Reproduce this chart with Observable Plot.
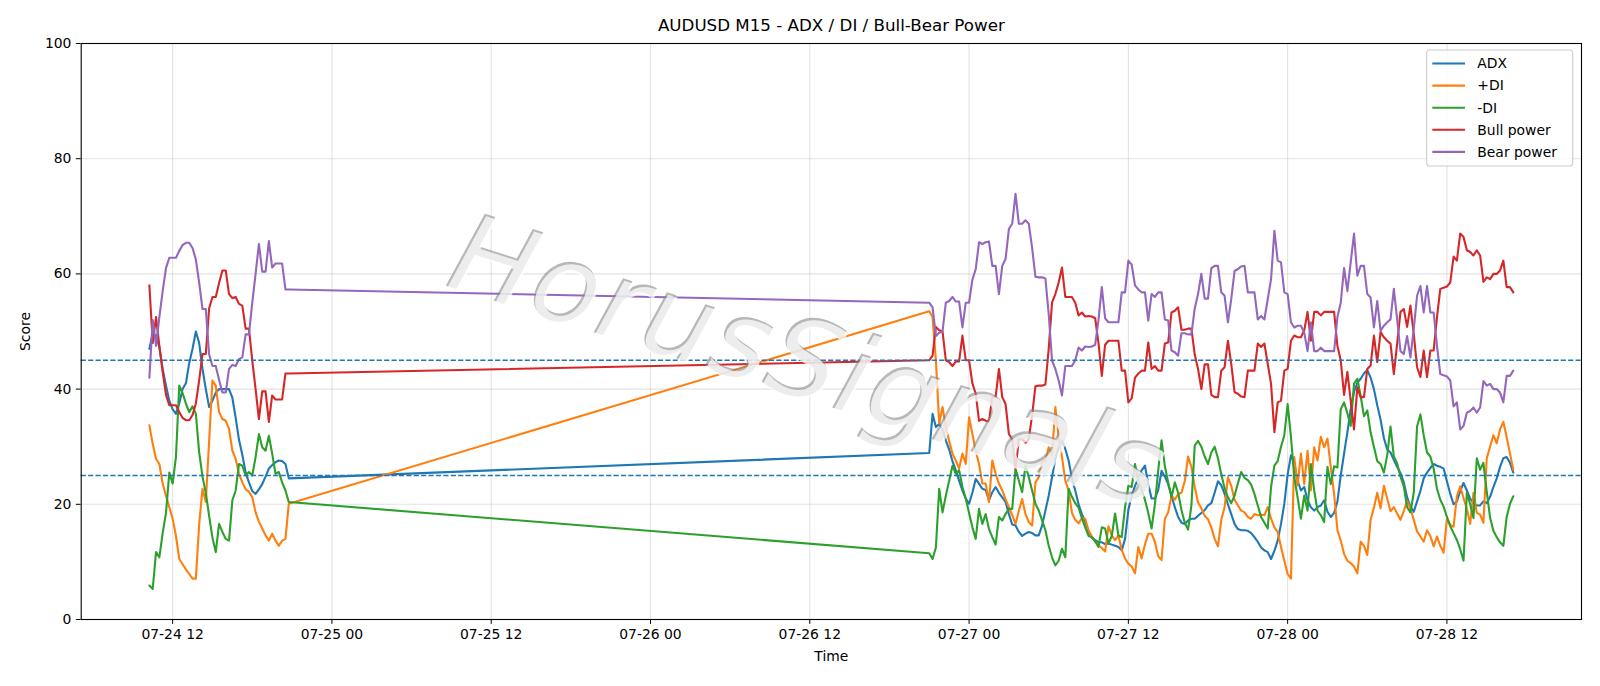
<!DOCTYPE html>
<html><head><meta charset="utf-8">
<script src="https://cdn.jsdelivr.net/npm/d3@7"></script>
<script src="https://cdn.jsdelivr.net/npm/@observablehq/plot@0.6"></script>
<style>body{margin:0;background:#fff;} #chart{width:1600px;height:686px;}</style>
</head><body><div id="chart"></div>
<script>
const chartTitle = "AUDUSD M15 - ADX / DI / Bull-Bear Power";
const xLabel = "Time";
const yLabel = "Score";
const watermark = "HorusSignals";
const seriesNames = ["ADX", "+DI", "-DI", "Bull power", "Bear power"];
const seriesColors = ["#1f77b4", "#ff7f0e", "#2ca02c", "#d62728", "#9467bd"];
const segStarts = ["2020-07-24T10:15:00Z", "2020-07-26T21:00:00Z"];
const barMinutes = 15;
const yTicks = [0, 20, 40, 60, 80, 100];
const refLevels = [45, 25];

// Segment 1: 07-24 10:15 .. 20:45
const adxA = [47,49.6,49.3,47.3,43.5,40.6,38,36.5,35.7,37.5,40,41,44.5,47,50,48,43.5,40,36.9,38,39.4,40,40,40,40,38.5,35,31.2,28.6,25.5,23.8,22.3,21.8,22.6,23.5,24.8,26.2,26.8,27.3,27.6,27.5,27,24.5];
const pdiA = [33.7,30.5,27.9,27,23.6,21.5,19.5,17.5,14.5,10.5,9.6,8.7,7.9,7.1,7.1,16.5,22.7,20.4,31,41.5,40.6,36,34.8,34.5,33.1,29.3,27.9,25.3,23.8,22.6,22.2,21.2,18.6,17,15.8,14.6,13.7,14.9,13.7,12.8,13.7,14,20.1];
const mdiA = [5.9,5.3,11.7,10.8,15,18.5,25.5,23.6,28.2,40.6,39.3,37.5,36,37,35.7,29,24.8,22,18,14.2,11.7,16.6,15.2,14,13.7,20.7,22.4,27,26.7,25,25.6,25,28.2,32.2,29.9,29.3,31.9,28.8,25.3,25.6,23.8,22.4,20.4];
const bullA = [58,48,52.5,47.5,43,39,37.2,37.2,37.2,36,35,34.6,34.6,35.5,37.5,41.5,46.1,46.1,54,56,56,58.4,60.6,60.6,56.5,55.8,56,54.8,54.5,50.5,50.5,45,40,34.8,39.6,39.6,34.3,38.9,38.2,38.2,38.2,42.7,42.7];
const bearA = [42,52,47.5,52.5,57,61,62.8,62.8,62.8,64,65,65.4,65.4,64.5,62.5,58.5,53.9,53.9,46,44,44,41.6,39.4,39.4,43.5,44.2,44,45.2,45.5,49.5,49.5,55,60,65.2,60.4,60.4,65.7,61.1,61.8,61.8,61.8,57.3,57.3];

// Segment 2: 07-26 21:00 .. 07-28 17:00
const adxB = [
28.9,35.7,33.4,34,33,31.1,29.5,27.5,25.9,24.1,
22.4,21,20.1,22,24.4,23.6,22.7,22.5,20.7,22.1,
23,22,21.2,20.4,18.3,16.5,16.3,15.2,14.5,14.9,
15.2,15,14.6,14.6,16.3,18.9,21.5,24.7,27.9,29.9,
31.1,29.6,27.6,24.5,22.4,20,18.3,17,15.3,14.2,
13.8,13.4,13.4,13.1,13.2,13,12.8,12.6,12,14,
19,21.5,23.2,24.5,25.9,26.7,23.5,21,21,22.5,
25.8,24.8,23.5,21.5,19.5,17.8,16.8,16.6,17.2,17.5,
17.5,18,18.5,19,19.8,20.2,22,24,23.3,21.8,
20,18.3,16.6,15.7,15.5,15.5,15.4,15,14.3,13.5,
12.5,12,11.7,10.5,11.9,13.7,16.6,20.1,25.2,28.5,
27,24.1,22.4,23,20.7,19.5,18.9,19.5,19.8,20.7,
18.7,17.8,18.5,20.5,25,28.8,32.5,36.5,39.5,41.1,
41.8,42.7,43.3,42,40,37.2,34.7,31.5,29.5,29,
27.7,26.5,25.4,23.8,21.2,19.6,18.7,20.5,22.3,24.5,
25.5,26.3,27,26.7,26.5,26.2,24,21.8,20,20.5,
22.3,23.7,22.4,21,20.2,19.8,19.8,20.5,20.2,21.3,
23,24.5,26.5,28,28.2,27.2,25.5];
const pdiB = [
53.5,52.5,45,34,36.9,33.4,31,28.8,27.6,26.2,
28.8,27,35.1,32.2,29.3,27,23.6,23.6,20.4,27.6,
25.3,23.6,22.4,20.9,19.5,18.1,16.6,18.9,20.9,18.3,
16.9,16.3,23.8,24.7,27.3,27.6,29.9,28.5,36.9,31.7,
28.2,24.1,22.4,18.5,17.3,16.7,17.6,17.5,15.5,14.4,
13.5,12.9,12.4,11.8,16.2,14.6,13.8,14.6,12.1,10.6,
9.7,9.2,8,12.6,10.6,13,14.9,14.9,13.5,11,
10.3,17.5,18.6,21.5,20.8,21.8,22,24,28.3,26.5,
23,20.3,19.3,18,17.4,16,14,12.7,17.3,19.5,
24.7,23.2,20.8,19.8,18.9,18.6,17.8,17.5,18.3,18.1,
18.2,18.1,19.5,17.5,16,15.2,12.6,10.2,7.9,7.1,
28.2,23.3,28.8,23.5,29.3,22.4,29.9,27.6,31.7,29.9,
31.4,26.4,21.8,15.5,13.7,11.4,10.2,9.8,9.2,8,
13.5,12.8,11.2,17.3,19.4,22,19.3,23.2,21,18.8,
19.5,18.4,17.3,18.8,20.6,19.3,17.3,15.3,14.4,13.5,
15.5,14.5,12.7,14.4,12.8,11.6,17.5,16.4,16.1,21.4,
23.1,21.1,19.2,16.6,22,18.5,18.2,16.8,28,30,
32,30.6,33,34.3,31.7,28.8,26];
const mdiB = [
11.5,10.5,12.5,22.7,18.6,21.5,24.1,26.7,25.3,25.9,
23,21,18.5,16,14,19.2,16.6,18.3,15.7,14.3,
13,17.8,17.2,18.3,19.2,19.2,26.2,24.1,22.1,26.7,
24.7,22.4,20.1,18.9,17.2,15.5,12.8,10.8,9.4,10.2,
12.3,10.8,22.7,21.3,20.2,19.4,17.6,16,14.5,14.3,
13.6,12.6,16,15.8,13.2,14.5,18.4,14.6,14.3,19.5,
23.2,23,27,24,22.5,20.8,18.5,15.8,20,25.9,
31.1,26.6,23.8,21.2,23.8,22,19,16.8,15.6,19.8,
30.2,31,30,28.3,27,29,30,28,25.2,22.8,
21.2,20.2,21.5,23.6,25.6,24.6,24.2,23.4,21.8,19.8,
17.8,16.8,15.8,23,26.7,27.5,30,32,37.4,31.7,
24.7,21.2,17.5,21.5,18.9,27,22.4,18.9,18.1,16.9,
26.5,23.5,26.6,26.4,36.5,37.7,35.8,33.6,40.9,41.8,
38.8,35.3,36.3,32.5,30,27.5,27,25.5,28.5,33.5,
28.3,27.1,24.8,23.1,19.5,18.6,22,33.5,35.6,32,
29,28.3,26.2,22.7,20.8,19.6,17.8,16.2,15,13.8,
12.2,10.2,22,20,17.6,28,26,27.2,22.2,17.7,
15.4,14.3,13.4,12.8,17.8,20.1,21.4];
const bullB = [
45,45.8,50.8,50.2,50,45,44.7,44,44.8,44.8,
49.3,45,45,41,39.2,34.5,34.8,34.5,34.4,38.6,
38.6,43.5,38.6,37.4,32.2,31.3,26.1,31.3,31.3,30.7,
31.3,35.5,40.5,40.6,40.6,40.8,47,55,56.5,58.5,
61.1,56,56,56,55,52.8,53.3,52.6,52.7,52.6,
52.3,48,42.3,47.7,48.4,48.4,48.4,48.4,43.2,43.2,
37.7,38.4,42,42.7,43.2,43.2,48.1,43.5,44,43.2,
43.2,47.9,48.1,53.3,53.6,54.2,50.3,50.3,50.5,50.5,
46,43.5,40,44.3,44.3,39,38.6,38.6,43.2,43.8,
48.4,44.4,39.5,39.2,38.7,38.6,43.2,43.2,43.2,47.9,
47.3,47.9,44.4,40.9,32.5,37.7,38,43.2,43.5,48.4,
49.3,49,49,50.2,53.4,48.4,53.4,53.4,52.8,53.4,
53.4,53.4,53.4,47.5,45,39,43,38,33,40.3,
38.6,38.6,43.5,44.1,49.3,44.7,49.9,49,48.4,47.9,
42.6,47.9,53.4,53.9,50.8,54.5,49.6,43.8,42.1,46.7,
42.1,46.7,46.7,52.5,57.4,57.6,57.8,58.5,63,62.3,
67,66.4,64.1,63.8,63.2,64.1,63.2,58.6,59.4,59.1,
60,60,60.6,62.3,57.7,57.7,56.8];
const bearB = [
55,54.2,49.2,49.8,50,55,55.3,56,55.2,55.2,
50.7,55,55,59,60.8,65.5,65.2,65.5,65.6,61.4,
61.4,56.5,61.4,62.6,67.8,68.7,73.9,68.7,68.7,69.3,
68.7,64.5,59.5,59.4,59.4,59.2,53,45,43.5,41.5,
38.9,44,44,44,45,47.2,46.7,47.4,47.3,47.4,
47.7,52,57.7,52.3,51.6,51.6,51.6,51.6,56.8,56.8,
62.3,61.6,58,57.3,56.8,56.8,51.9,56.5,56,56.8,
56.8,52.1,51.9,46.7,46.4,45.8,49.7,49.7,49.5,49.5,
54,56.5,60,55.7,55.7,61,61.4,61.4,56.8,56.2,
51.6,55.6,60.5,60.8,61.3,61.4,56.8,56.8,56.8,52.1,
52.7,52.1,55.6,59.1,67.5,62.3,62,56.8,56.5,51.6,
50.7,51,51,49.8,46.6,51.6,46.6,46.6,47.2,46.6,
46.6,46.6,46.6,52.5,55,61,57,62,67,59.7,
61.4,61.4,56.5,55.9,50.7,55.3,50.1,51,51.6,52.1,
57.4,52.1,46.6,46.1,49.2,45.5,50.4,56.2,57.9,53.3,
57.9,53.3,53.3,47.5,42.6,42.4,42.2,41.5,37,37.7,
33,33.6,35.9,36.2,36.8,35.9,36.8,41.4,40.6,40.9,
40,40,39.4,37.7,42.3,42.3,43.2];

// bar timestamps (regular M15 bars in two sessions)
const segLengths = [adxA.length, adxB.length];
const times = [];
segLengths.forEach((n, k) => {
  const s = new Date(segStarts[k]);
  for (let i = 0; i < n; i++) times.push(new Date(+s + i * barMinutes * 60000));
});
const seriesValues = [adxA.concat(adxB), pdiA.concat(pdiB), mdiA.concat(mdiB), bullA.concat(bullB), bearA.concat(bearB)];
const rows = [];
seriesNames.forEach((name, k) => seriesValues[k].forEach((v, i) => rows.push({t: times[i], v, series: name})));

const t0 = times[0], t1 = times[times.length - 1], pad = (t1 - t0) * 0.05;
const xDomain = [new Date(+t0 - pad), new Date(+t1 + pad)];
const xTicks = d3.utcHour.every(12).range(xDomain[0], xDomain[1]);

const W = 1600, H = 686, ML = 80.7, MR = 19, MT = 43, MB = 67;
const chart = Plot.plot({
  width: W, height: H,
  marginLeft: ML, marginRight: MR, marginTop: MT, marginBottom: MB,
  style: {fontFamily: "'DejaVu Sans', sans-serif", fontSize: "13.9px", color: "black", background: "white", overflow: "visible"},
  x: {type: "utc", domain: xDomain, ticks: xTicks, tickFormat: d3.utcFormat("%m-%d %H"), tickSize: 4.9, tickPadding: 4.9, label: null},
  y: {domain: [0, 100], ticks: yTicks, tickSize: 4.9, tickPadding: 4.9, label: null},
  color: {domain: seriesNames, range: seriesColors},
  marks: [
    Plot.ruleX(xTicks, {stroke: "#b0b0b0", strokeOpacity: 0.35, strokeWidth: 1.1}),
    Plot.ruleY(yTicks, {stroke: "#b0b0b0", strokeOpacity: 0.35, strokeWidth: 1.1}),
    Plot.line(rows, {x: "t", y: "v", z: "series", stroke: "series", strokeWidth: 2.1, strokeLinejoin: "round"}),
    Plot.ruleY(refLevels, {stroke: "#1f77b4", strokeWidth: 1.4, strokeDasharray: "5.2,2.2"}),
    Plot.frame({stroke: "black", strokeWidth: 1.1}),
    Plot.text([chartTitle], {text: d => d, frameAnchor: "top", dy: -17.5, lineAnchor: "middle", textAnchor: "middle", fontSize: 16.7}),
    Plot.text([xLabel], {text: d => d, frameAnchor: "bottom", dy: 37, lineAnchor: "middle", textAnchor: "middle"}),
    Plot.text([yLabel], {text: d => d, frameAnchor: "left", dx: -55.7, rotate: -90, lineAnchor: "middle", textAnchor: "middle"})
  ]
});
document.getElementById("chart").appendChild(chart);

const svg = d3.select(chart);
// watermark: thin embossed text over the plot
const wm = svg.append("g").attr("transform", "translate(808,360) rotate(17.5)")
  .attr("font-family", "'DejaVu Sans ExtraLight', 'DejaVu Sans', sans-serif").attr("font-weight", 200)
  .attr("font-style", "italic").attr("font-size", 110).attr("text-anchor", "middle")
  .attr("dominant-baseline", "central").attr("letter-spacing", 2);
wm.append("text").attr("x", 0).attr("y", 0).attr("fill", "#888888").attr("fill-opacity", 0.6).text(watermark);
wm.append("text").attr("x", 2).attr("y", 2).attr("fill", "white").attr("fill-opacity", 0.75).text(watermark);

// legend
const lg = svg.append("g").attr("font-family", "'DejaVu Sans', sans-serif").attr("font-size", 13.9).attr("text-anchor", "start");
lg.append("rect").attr("x", 1426.7).attr("y", 50).attr("width", 146).attr("height", 116).attr("rx", 3)
  .attr("fill", "white").attr("fill-opacity", 0.8).attr("stroke", "#cccccc").attr("stroke-width", 1.1);
seriesNames.forEach((n, k) => {
  const y = 63.5 + k * 22.1;
  lg.append("line").attr("x1", 1432.3).attr("x2", 1465).attr("y1", y).attr("y2", y)
    .attr("stroke", seriesColors[k]).attr("stroke-width", 2.1);
  lg.append("text").attr("x", 1477.3).attr("y", y).attr("dy", "0.35em").attr("fill", "black")
    .attr("text-anchor", "start").text(n);
});
</script>
</body></html>
